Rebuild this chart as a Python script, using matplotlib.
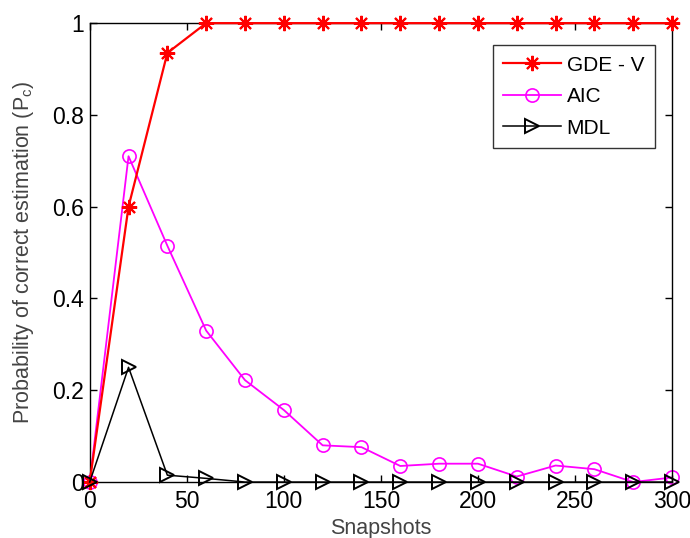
import matplotlib
matplotlib.use("Agg")
import matplotlib.pyplot as plt

plt.rcParams['font.family'] = ['Liberation Sans', 'DejaVu Sans']

snapshots = [0, 20, 40, 60, 80, 100, 120, 140, 160, 180, 200, 220, 240, 260, 280, 300]
gde_v = [0, 0.60, 0.935, 1, 1, 1, 1, 1, 1, 1, 1, 1, 1, 1, 1, 1]
aic = [0, 0.71, 0.515, 0.33, 0.222, 0.157, 0.08, 0.076, 0.035, 0.04, 0.04, 0.012, 0.036, 0.028, 0.0, 0.01]
mdl = [0, 0.25, 0.015, 0.008, 0, 0, 0, 0, 0, 0, 0, 0, 0, 0, 0, 0]

xticks = [0, 50, 100, 150, 200, 250, 300]
yticks = [0, 0.2, 0.4, 0.6, 0.8, 1]
yticklabels = ['0', '0.2', '0.4', '0.6', '0.8', '1']

fig = plt.figure(figsize=(6.9, 5.38), dpi=100)
ax = fig.add_axes([0.130, 0.104, 0.844, 0.853])

ax.plot(snapshots, gde_v, color='#ff0000', marker=(8, 2, 0), markersize=11, linewidth=1.6,
        markeredgewidth=1.5, label='GDE - V', clip_on=False, zorder=3)
ax.plot(snapshots, aic, color='#ff00ff', marker='o', markersize=9.5, linewidth=1.3,
        markerfacecolor='none', markeredgewidth=1.2, label='AIC', clip_on=False, zorder=2)
ax.plot(snapshots, mdl, color='black', marker='>', markersize=10, linewidth=1.1,
        markerfacecolor='none', markeredgewidth=1.4, label='MDL', clip_on=False, zorder=4)

ax.set_xlim(0, 300)
ax.set_ylim(0, 1)
ax.set_xticks(xticks)
ax.set_yticks(yticks)
ax.set_yticklabels(yticklabels)
ax.tick_params(axis='x', pad=6)
ax.tick_params(direction='in', top=True, right=True, labelsize=16.5, length=5, width=1)
ax.tick_params(axis='y', pad=4)
for s in ax.spines.values():
    s.set_linewidth(1)

ax.set_xlabel('Snapshots', fontsize=15.5, color='#444444', labelpad=3)
ax.set_ylabel('Probability of correct estimation (P$\\mathregular{_c}$)', fontsize=15.5,
              color='#444444', labelpad=12)

leg = ax.legend(loc='upper right', bbox_to_anchor=(0.97, 0.952), fontsize=15, frameon=True,
                fancybox=False, edgecolor='black', handlelength=2.8, handletextpad=0.25,
                borderpad=0.5, labelspacing=0.6, borderaxespad=0)
leg.get_frame().set_linewidth(1)

fig.savefig('out.png', dpi=100)
